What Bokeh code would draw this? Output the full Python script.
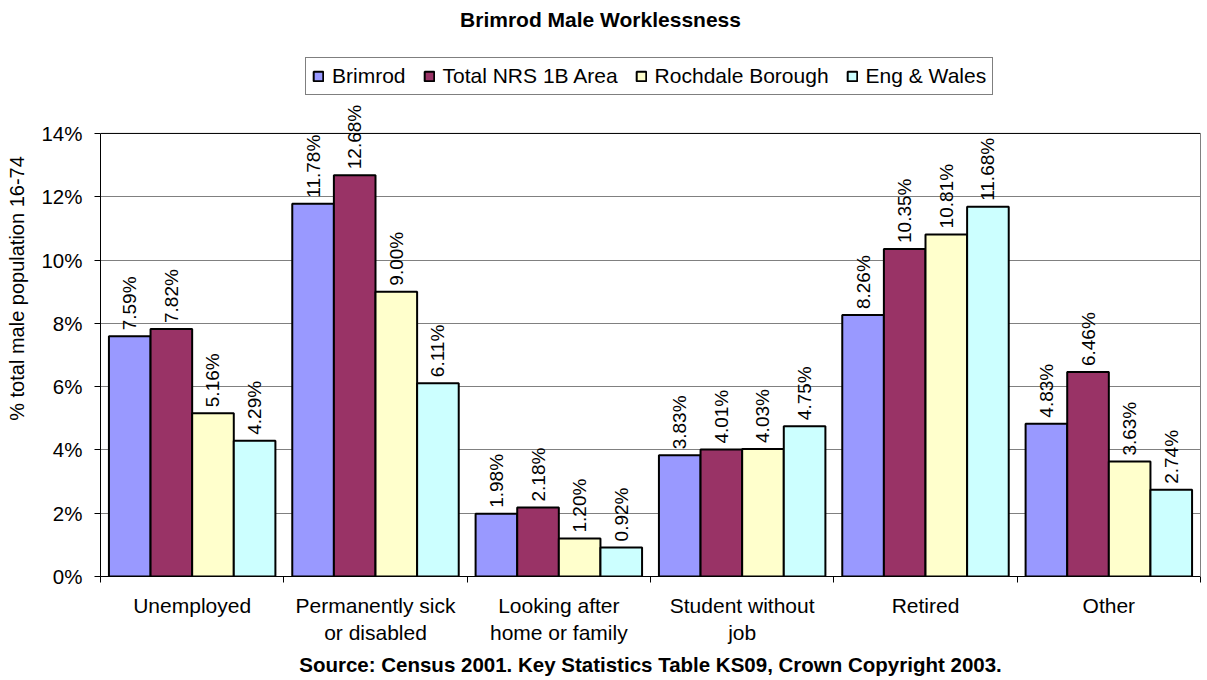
import numpy as np
from bokeh.plotting import figure
from bokeh.models import (ColumnDataSource, Range1d, FixedTicker, PrintfTickFormatter,
                          LabelSet, Label, Legend, LegendItem, Span, Title, LinearAxis)
from bokeh.core.properties import value
from bokeh.embed import file_html
from bokeh.resources import INLINE

categories = ["Unemployed", "Permanently sick\nor disabled", "Looking after\nhome or family",
              "Student without\njob", "Retired", "Other"]
series_names = ["Brimrod", "Total NRS 1B Area", "Rochdale Borough", "Eng & Wales"]
brimrod = [7.59, 11.78, 1.98, 3.83, 8.26, 4.83]
total_nrs = [7.82, 12.68, 2.18, 4.01, 10.35, 6.46]
rochdale = [5.16, 9.00, 1.20, 4.03, 10.81, 3.63]
eng_wales = [4.29, 6.11, 0.92, 4.75, 11.68, 2.74]
y_ticks = [0, 2, 4, 6, 8, 10, 12, 14]

colors = ["#9999FF", "#993366", "#FFFFCC", "#CCFFFF"]
FONT = "Liberation Sans"
series = [brimrod, total_nrs, rochdale, eng_wales]
y_max = y_ticks[-1]

p = figure(width=1207, height=680, output_backend="svg", toolbar_location=None,
           x_range=Range1d(0, 6), y_range=Range1d(0, 18.2),
           min_border_left=100, min_border_right=7, min_border_top=0, min_border_bottom=104)
p.title = None

bar_w = 0.227
centers = np.arange(len(categories)) + 0.5
items = []
for i, (name, vals, col) in enumerate(zip(series_names, series, colors)):
    xs = centers + (i - 1.5) * bar_w
    src = ColumnDataSource(dict(x=xs, top=vals, lab=["%.2f%%" % v for v in vals]))
    r = p.vbar(x="x", top="top", width=bar_w, bottom=0, source=src,
               fill_color=col, line_color="black", line_width=2)
    items.append(LegendItem(label=name, renderers=[r]))
    ls = LabelSet(x="x", y="top", text="lab", source=src, angle=np.pi / 2,
                  text_align="left", text_baseline="middle", y_offset=6,
                  text_font=value(FONT), text_font_size="19px", text_color="black")
    p.add_layout(ls)

p.add_layout(Span(location=y_max, dimension="width", line_color="black", line_width=1))

# grid / outline
p.xgrid.grid_line_color = None
p.ygrid.grid_line_color = "#808080"
p.ygrid.grid_line_width = 1
p.outline_line_color = None

# left axis
p.yaxis.ticker = FixedTicker(ticks=y_ticks)
p.yaxis.bounds = (0, y_max)
p.yaxis.formatter = PrintfTickFormatter(format="%d%%")
p.yaxis.major_tick_out = 6
p.yaxis.major_tick_in = 0
p.yaxis.minor_tick_line_color = None
p.yaxis.major_label_standoff = 12
p.yaxis.major_label_text_font = FONT
p.yaxis.major_label_text_font_size = "20.5px"
p.yaxis.major_label_text_color = "black"
p.yaxis.axis_line_color = "black"
p.yaxis.major_tick_line_color = "black"
p.yaxis.axis_label = "% total male population 16-74"
p.yaxis.axis_label_text_font = FONT
p.yaxis.axis_label_text_font_size = "20px"
p.yaxis.axis_label_text_font_style = "normal"
p.yaxis.axis_label_text_color = "black"
p.yaxis.axis_label_standoff = 10

# right border as a bare axis
right = LinearAxis(bounds=(0, y_max), ticker=FixedTicker(ticks=[]), axis_line_color="#808080",
                   major_tick_line_color=None, minor_tick_line_color=None,
                   major_label_text_font_size="0px")
p.add_layout(right, "right")

# x axis
p.xaxis.ticker = FixedTicker(ticks=list(centers), minor_ticks=list(range(len(categories) + 1)))
p.xaxis.major_label_overrides = {float(c): lab for c, lab in zip(centers, categories)}
p.xaxis.major_tick_line_color = None
p.xaxis.minor_tick_out = 6
p.xaxis.minor_tick_in = 0
p.xaxis.minor_tick_line_color = "black"
p.xaxis.major_label_standoff = 11
p.xaxis.major_label_text_font = FONT
p.xaxis.major_label_text_font_size = "21px"
p.xaxis.major_label_text_color = "black"
p.xaxis.axis_line_color = "black"

legend = Legend(items=items, orientation="horizontal", location=(205, 481),
                border_line_color="black", border_line_width=1,
                label_text_font=FONT, label_text_font_size="21px", label_text_color="black",
                label_height=21,
                glyph_width=12, glyph_height=12, label_standoff=8, spacing=17,
                padding=6, margin=0, background_fill_alpha=1)
p.add_layout(legend, "center")

p.add_layout(Label(x=500, y=557, x_units="screen", y_units="screen",
                   text="Brimrod Male Worklessness", text_align="center", text_baseline="middle",
                   text_font=FONT, text_font_size="21px", text_font_style="bold",
                   text_color="black"))

p.add_layout(Title(text="Source: Census 2001. Key Statistics Table KS09, Crown Copyright 2003.",
                   align="center", text_font=FONT, text_font_size="20.5px", text_color="black",
                   text_font_style="bold", standoff=6), "below")

open("out.html", "w").write(file_html(p, INLINE))
